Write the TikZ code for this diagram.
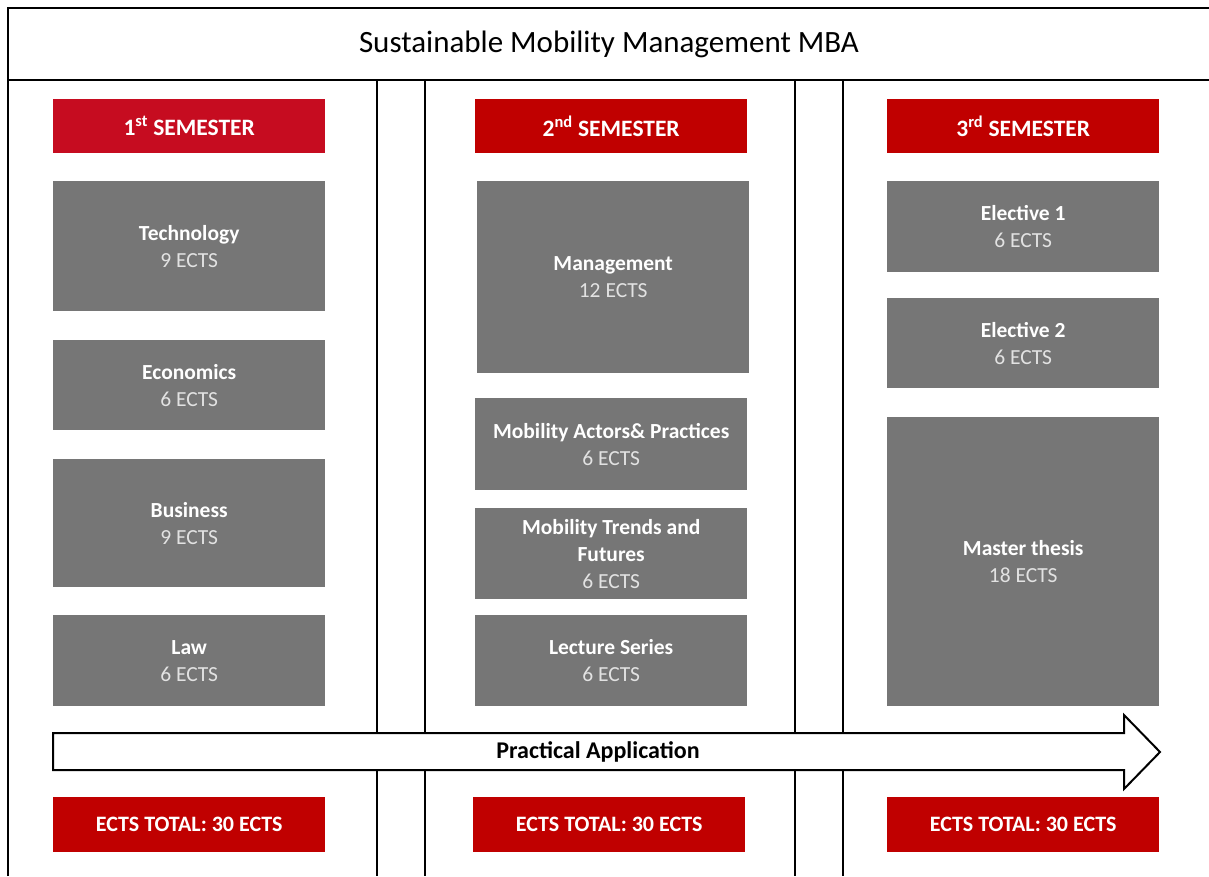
\documentclass[tikz,border=0pt]{standalone}
\usepackage{fontspec}
\setmainfont{Carlito}
\definecolor{mbared}{HTML}{C00000}
\definecolor{mbaredone}{HTML}{C60C20}
\definecolor{mbagray}{HTML}{767676}
\definecolor{ectsgray}{HTML}{E2E2E2}

\begin{document}
\begin{tikzpicture}[x=1pt,y=-1pt,
  frame/.style={line width=2pt},
  semhead/.style={fill=mbared, text=white, anchor=north west, inner sep=0pt,
    minimum width=272pt, minimum height=54pt,
    font=\bfseries\fontsize{22}{26}\selectfont},
  course/.style={fill=mbagray, text=white, anchor=north west, inner sep=0pt,
    align=center, minimum width=272pt,
    font=\fontsize{21.5}{27}\selectfont}]
  \useasboundingbox (0,0) rectangle (1209,876);

  \draw[frame] (8,876) -- (8,8) -- (1209,8);
  \draw[frame] (8,80) -- (1209,80);
  \foreach \px in {377,425,795,843} {
    \draw[frame] (\px,80) -- (\px,876);
  }
  \node[font=\fontsize{31}{35}\selectfont] (title) at (609,44) {Sustainable Mobility Management MBA};

  \foreach \px/\num/\sfx [count=\i] in {53/1/st,475/2/nd,887/3/rd} {
    \node[semhead, font=\bfseries\fontsize{23.5}{27}\selectfont] (sem\i) at (\px,99) {\num\textsuperscript{\sfx} SEMESTER};
  }
  \node[semhead, fill=mbaredone, font=\bfseries\fontsize{23.5}{27}\selectfont] at (sem1.north west) {1\textsuperscript{st} SEMESTER};

  \foreach \nm/\px/\py/\boxh/\lbl/\ects in {tech/53/181/130/Technology/9,
      econ/53/340/90/Economics/6, bus/53/459/128/Business/9, law/53/615/91/Law/6,
      man/477/181/192/Management/12, actors/475/398/92/Mobility Actors\& Practices/6,
      lect/475/615/91/Lecture Series/6, elecA/887/181/91/Elective 1/6,
      elecB/887/298/90/Elective 2/6, thesis/887/417/289/Master thesis/18} {
    \node[course, minimum height=\boxh pt] (\nm) at (\px,\py) {\textbf{\lbl}\\{\color{ectsgray}\ects\ ECTS}};
  }
  \node[course, minimum height=91pt] (trends) at (475,508)
    {\textbf{Mobility Trends and}\\\textbf{Futures}\\{\color{ectsgray}6 ECTS}};

  \draw[frame, fill=white] (53,733) -- (1124,733) -- (1124,715) -- (1160,752)
    -- (1124,789) -- (1124,770) -- (53,770) -- cycle;
  \node[font=\bfseries\fontsize{24}{28}\selectfont] (practice) at (598,752) {Practical Application};

  \foreach \px [count=\i] in {53,473,887} {
    \node[semhead, minimum height=55pt] (total\i) at (\px,797) {ECTS TOTAL: 30 ECTS};
  }
\end{tikzpicture}
\end{document}
